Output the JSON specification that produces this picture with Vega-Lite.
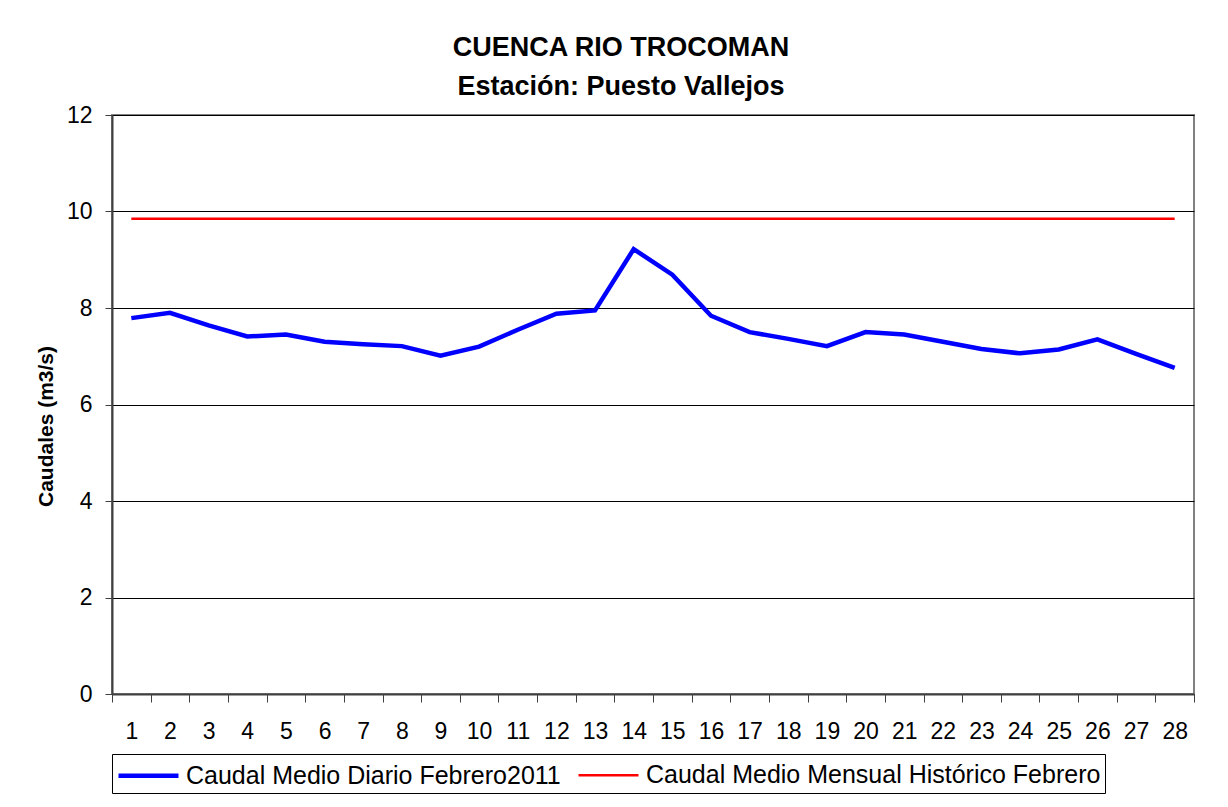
{
  "$schema": "https://vega.github.io/schema/vega-lite/v6.json",
  "autosize": {"type": "none"},
  "width": 1082,
  "height": 579,
  "padding": {"left": 112, "top": 115, "right": 34, "bottom": 113},
  "background": "white",
  "config": {
    "font": "Liberation Sans",
    "view": {"stroke": "#808080", "strokeWidth": 2}
  },
  "title": {
    "text": ["CUENCA RIO TROCOMAN", "Estación: Puesto Vallejos"],
    "font": "Liberation Sans",
    "fontSize": 27,
    "fontWeight": "bold",
    "color": "#000000",
    "lineHeight": 39,
    "anchor": "middle",
    "frame": "group",
    "dx": -32,
    "offset": 3
  },
  "data": {
    "values": [
      {"dia": 1, "caudal": 7.79, "serie": "Caudal Medio Diario Febrero2011"},
      {"dia": 2, "caudal": 7.90, "serie": "Caudal Medio Diario Febrero2011"},
      {"dia": 3, "caudal": 7.64, "serie": "Caudal Medio Diario Febrero2011"},
      {"dia": 4, "caudal": 7.41, "serie": "Caudal Medio Diario Febrero2011"},
      {"dia": 5, "caudal": 7.45, "serie": "Caudal Medio Diario Febrero2011"},
      {"dia": 6, "caudal": 7.30, "serie": "Caudal Medio Diario Febrero2011"},
      {"dia": 7, "caudal": 7.25, "serie": "Caudal Medio Diario Febrero2011"},
      {"dia": 8, "caudal": 7.21, "serie": "Caudal Medio Diario Febrero2011"},
      {"dia": 9, "caudal": 7.01, "serie": "Caudal Medio Diario Febrero2011"},
      {"dia": 10, "caudal": 7.20, "serie": "Caudal Medio Diario Febrero2011"},
      {"dia": 11, "caudal": 7.55, "serie": "Caudal Medio Diario Febrero2011"},
      {"dia": 12, "caudal": 7.88, "serie": "Caudal Medio Diario Febrero2011"},
      {"dia": 13, "caudal": 7.95, "serie": "Caudal Medio Diario Febrero2011"},
      {"dia": 14, "caudal": 9.22, "serie": "Caudal Medio Diario Febrero2011"},
      {"dia": 15, "caudal": 8.69, "serie": "Caudal Medio Diario Febrero2011"},
      {"dia": 16, "caudal": 7.84, "serie": "Caudal Medio Diario Febrero2011"},
      {"dia": 17, "caudal": 7.50, "serie": "Caudal Medio Diario Febrero2011"},
      {"dia": 18, "caudal": 7.36, "serie": "Caudal Medio Diario Febrero2011"},
      {"dia": 19, "caudal": 7.21, "serie": "Caudal Medio Diario Febrero2011"},
      {"dia": 20, "caudal": 7.50, "serie": "Caudal Medio Diario Febrero2011"},
      {"dia": 21, "caudal": 7.45, "serie": "Caudal Medio Diario Febrero2011"},
      {"dia": 22, "caudal": 7.30, "serie": "Caudal Medio Diario Febrero2011"},
      {"dia": 23, "caudal": 7.15, "serie": "Caudal Medio Diario Febrero2011"},
      {"dia": 24, "caudal": 7.06, "serie": "Caudal Medio Diario Febrero2011"},
      {"dia": 25, "caudal": 7.14, "serie": "Caudal Medio Diario Febrero2011"},
      {"dia": 26, "caudal": 7.35, "serie": "Caudal Medio Diario Febrero2011"},
      {"dia": 27, "caudal": 7.05, "serie": "Caudal Medio Diario Febrero2011"},
      {"dia": 28, "caudal": 6.76, "serie": "Caudal Medio Diario Febrero2011"},
      {"dia": 1, "caudal": 9.85, "serie": "Caudal Medio Mensual Histórico Febrero"},
      {"dia": 2, "caudal": 9.85, "serie": "Caudal Medio Mensual Histórico Febrero"},
      {"dia": 3, "caudal": 9.85, "serie": "Caudal Medio Mensual Histórico Febrero"},
      {"dia": 4, "caudal": 9.85, "serie": "Caudal Medio Mensual Histórico Febrero"},
      {"dia": 5, "caudal": 9.85, "serie": "Caudal Medio Mensual Histórico Febrero"},
      {"dia": 6, "caudal": 9.85, "serie": "Caudal Medio Mensual Histórico Febrero"},
      {"dia": 7, "caudal": 9.85, "serie": "Caudal Medio Mensual Histórico Febrero"},
      {"dia": 8, "caudal": 9.85, "serie": "Caudal Medio Mensual Histórico Febrero"},
      {"dia": 9, "caudal": 9.85, "serie": "Caudal Medio Mensual Histórico Febrero"},
      {"dia": 10, "caudal": 9.85, "serie": "Caudal Medio Mensual Histórico Febrero"},
      {"dia": 11, "caudal": 9.85, "serie": "Caudal Medio Mensual Histórico Febrero"},
      {"dia": 12, "caudal": 9.85, "serie": "Caudal Medio Mensual Histórico Febrero"},
      {"dia": 13, "caudal": 9.85, "serie": "Caudal Medio Mensual Histórico Febrero"},
      {"dia": 14, "caudal": 9.85, "serie": "Caudal Medio Mensual Histórico Febrero"},
      {"dia": 15, "caudal": 9.85, "serie": "Caudal Medio Mensual Histórico Febrero"},
      {"dia": 16, "caudal": 9.85, "serie": "Caudal Medio Mensual Histórico Febrero"},
      {"dia": 17, "caudal": 9.85, "serie": "Caudal Medio Mensual Histórico Febrero"},
      {"dia": 18, "caudal": 9.85, "serie": "Caudal Medio Mensual Histórico Febrero"},
      {"dia": 19, "caudal": 9.85, "serie": "Caudal Medio Mensual Histórico Febrero"},
      {"dia": 20, "caudal": 9.85, "serie": "Caudal Medio Mensual Histórico Febrero"},
      {"dia": 21, "caudal": 9.85, "serie": "Caudal Medio Mensual Histórico Febrero"},
      {"dia": 22, "caudal": 9.85, "serie": "Caudal Medio Mensual Histórico Febrero"},
      {"dia": 23, "caudal": 9.85, "serie": "Caudal Medio Mensual Histórico Febrero"},
      {"dia": 24, "caudal": 9.85, "serie": "Caudal Medio Mensual Histórico Febrero"},
      {"dia": 25, "caudal": 9.85, "serie": "Caudal Medio Mensual Histórico Febrero"},
      {"dia": 26, "caudal": 9.85, "serie": "Caudal Medio Mensual Histórico Febrero"},
      {"dia": 27, "caudal": 9.85, "serie": "Caudal Medio Mensual Histórico Febrero"},
      {"dia": 28, "caudal": 9.85, "serie": "Caudal Medio Mensual Histórico Febrero"}
    ]
  },
  "mark": {"type": "line", "strokeCap": "butt", "strokeJoin": "miter"},
  "encoding": {
    "x": {
      "field": "dia",
      "type": "ordinal",
      "bandPosition": 0.5,
      "scale": {"type": "band", "paddingInner": 0, "paddingOuter": 0},
      "axis": {
        "title": null,
        "labelAngle": 0,
        "labelFontSize": 23,
        "labelColor": "#000000",
        "labelPadding": 18,
        "tickBand": "extent",
        "tickSize": 8,
        "tickColor": "#404040",
        "domainColor": "#404040",
        "domainWidth": 2,
        "grid": false
      }
    },
    "y": {
      "field": "caudal",
      "type": "quantitative",
      "scale": {"domain": [0, 12], "nice": false},
      "axis": {
        "title": "Caudales (m3/s)",
        "titleFontSize": 21,
        "titleFontWeight": "bold",
        "titleColor": "#000000",
        "titlePadding": 10,
        "titleY": 311,
        "values": [0, 2, 4, 6, 8, 10, 12],
        "labelFontSize": 23,
        "labelColor": "#000000",
        "labelPadding": 13,
        "tickSize": 7,
        "tickColor": "#404040",
        "domainColor": "#404040",
        "domainWidth": 2,
        "grid": true,
        "gridColor": "#000000",
        "gridWidth": 1
      }
    },
    "color": {
      "field": "serie",
      "type": "nominal",
      "scale": {
        "domain": ["Caudal Medio Diario Febrero2011", "Caudal Medio Mensual Histórico Febrero"],
        "range": ["#0000FF", "#FF0000"]
      },
      "legend": {
        "title": null,
        "orient": "none",
        "legendX": 0,
        "legendY": 639,
        "direction": "horizontal",
        "columns": 2,
        "columnPadding": 12,
        "symbolType": "M-1,0H3",
        "symbolSize": 900,
        "labelFontSize": 25,
        "labelColor": "#000000",
        "labelLimit": 1000,
        "labelOffset": 35,
        "strokeColor": "#000000",
        "padding": 4,
        "fillColor": "white"
      }
    },
    "strokeWidth": {
      "field": "serie",
      "type": "nominal",
      "scale": {
        "domain": ["Caudal Medio Diario Febrero2011", "Caudal Medio Mensual Histórico Febrero"],
        "range": [4.5, 2.5]
      },
      "legend": {
        "title": null,
        "orient": "none",
        "legendX": 0,
        "legendY": 639,
        "direction": "horizontal",
        "columns": 2,
        "columnPadding": 12,
        "symbolType": "M-1,0H3",
        "symbolSize": 900,
        "labelFontSize": 25,
        "labelColor": "#000000",
        "labelLimit": 1000,
        "labelOffset": 35,
        "strokeColor": "#000000",
        "padding": 4,
        "fillColor": "white"
      }
    }
  }
}
